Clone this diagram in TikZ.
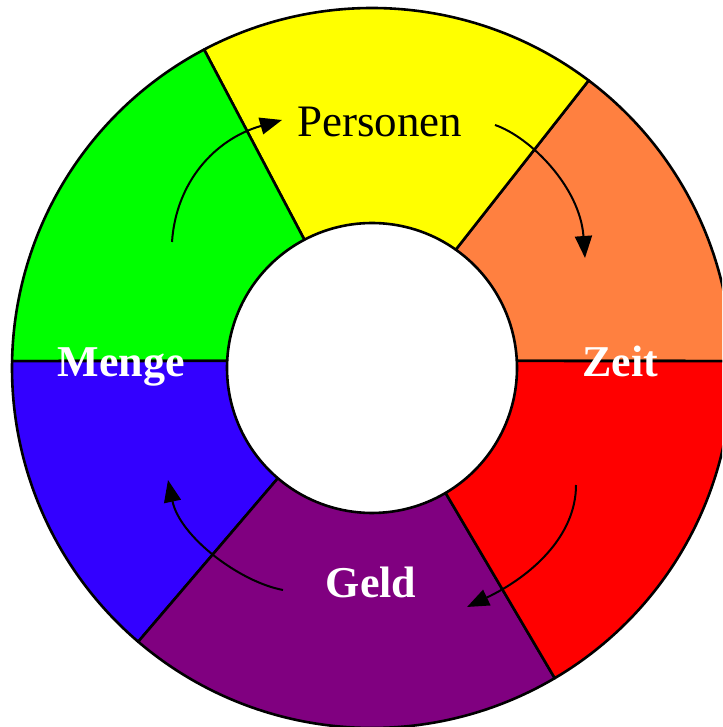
\documentclass[tikz,border=0pt]{standalone}
\usepackage{fontspec}
\setmainfont{Liberation Serif}
\usetikzlibrary{arrows.meta}
\definecolor{cgreen}{RGB}{0,255,0}
\definecolor{cyellow}{RGB}{255,255,0}
\definecolor{corange}{RGB}{255,128,64}
\definecolor{cred}{RGB}{255,0,0}
\definecolor{cpurple}{RGB}{128,0,128}
\definecolor{cblue}{RGB}{51,0,255}
\tikzset{
  sector/.style={draw=black, line width=2.6pt, line join=round},
  cyclearrow/.style={draw=black, line width=2pt, -{Triangle[length=22pt,width=17pt]}},
  lbl/.style={anchor=base, inner sep=0pt, font=\fontsize{45}{54}\selectfont},
  blbl/.style={anchor=base, inner sep=0pt, text=white, font=\bfseries\fontsize{44}{52}\selectfont}
}
\newcommand{\ringsector}[5]{%
  \path[sector, fill=#1] ([shift={(#2:360)}]C) arc[start angle=#2, end angle=#3, radius=360]
     -- ([shift={(#4:145)}]C) arc[start angle=#4, end angle=#5, radius=145] -- cycle;}
\begin{document}
\begin{tikzpicture}[x=1pt,y=1pt]
\path[use as bounding box] (0,0) rectangle (722,727);
\fill[white] (0,0) rectangle (722,727);
\clip (0,0) rectangle (722,727);
\coordinate (C) at (372,359);
\ringsector{corange}{1.1}{53}{54.7}{2.8}
\ringsector{cyellow}{53}{117.8}{117.8}{54.7}
\ringsector{cgreen}{117.8}{178.9}{177.2}{117.8}
\ringsector{cblue}{178.9}{229.5}{229.5}{177.2}
\ringsector{cpurple}{229.5}{300.5}{300.5}{229.5}
\ringsector{cred}{300.5}{361.1}{362.8}{300.5}
\node[lbl] (personen) at (379.5,590) {Personen};
\node[blbl] (menge) at (121,350) {Menge};
\node[blbl] (zeit) at (620.5,350) {Zeit};
\node[blbl] (geld) at (371,129) {Geld};
\coordinate (a1s) at (172,485);
\coordinate (a1e) at (282,607);
\coordinate (a2s) at (495,602);
\coordinate (a2e) at (585,469);
\coordinate (a3s) at (576,242);
\coordinate (a3e) at (467,120);
\coordinate (a4s) at (283,137);
\coordinate (a4e) at (168,247);
\draw[cyclearrow] (a1s) .. controls (176,545) and (215,588) .. (a1e);
\draw[cyclearrow] (a2s) .. controls (530,590) and (580,540) .. (a2e);
\draw[cyclearrow] (a3s) .. controls (576,190) and (530,150) .. (a3e);
\draw[cyclearrow] (a4s) .. controls (240,145) and (180,190) .. (a4e);
\end{tikzpicture}
\end{document}
